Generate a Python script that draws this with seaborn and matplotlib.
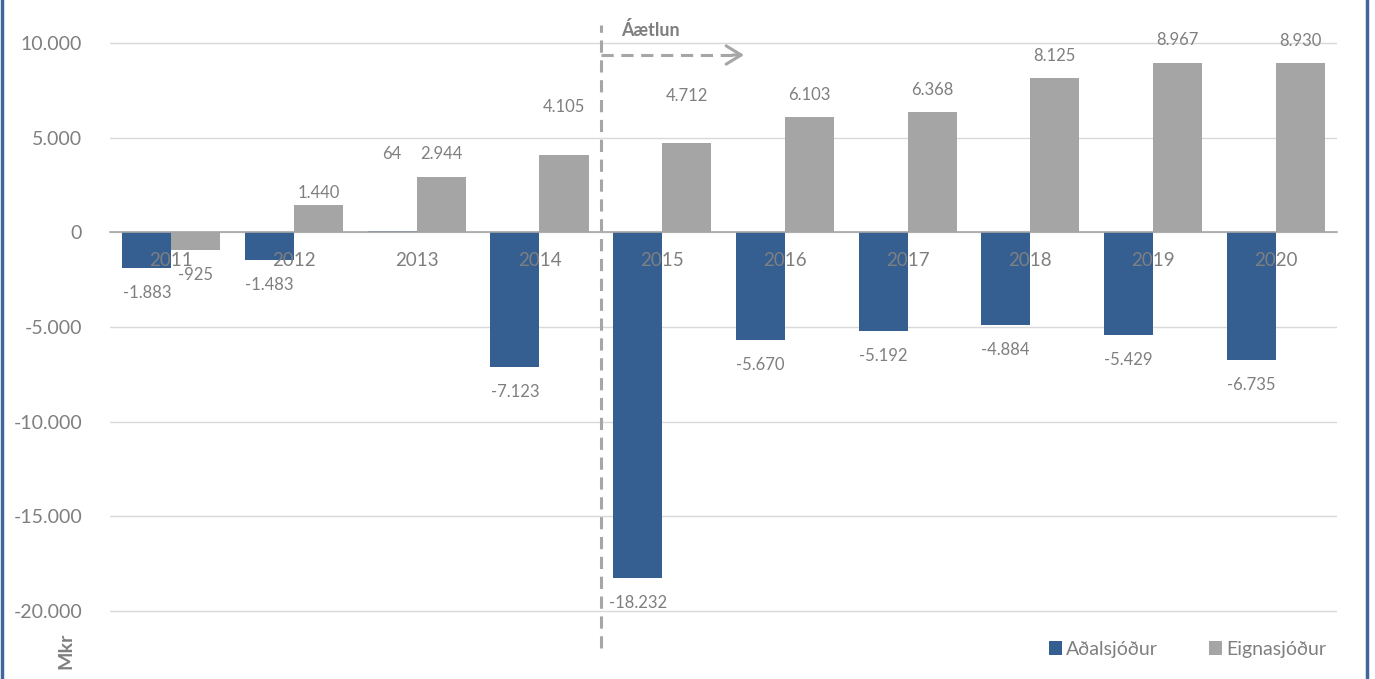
import pandas as pd
import matplotlib.pyplot as plt
import seaborn as sns
from matplotlib.lines import Line2D
from matplotlib.ticker import FuncFormatter

# Data
years = ['2011', '2012', '2013', '2014', '2015', '2016', '2017', '2018', '2019', '2020']
adalsjodur = [-1883, -1483, 64, -7123, -18232, -5670, -5192, -4884, -5429, -6735]
eignasjodur = [-925, 1440, 2944, 4105, 4712, 6103, 6368, 8125, 8967, 8930]
funds = ['Aðalsjóður', 'Eignasjóður']
y_ticks = [-20000, -15000, -10000, -5000, 0, 5000, 10000]

df = pd.DataFrame({'year': years * 2,
                   'value': adalsjodur + eignasjodur,
                   'fund': [funds[0]] * len(years) + [funds[1]] * len(years)})

sns.set_theme(style="white")
plt.rcParams['font.family'] = ['Lato', 'DejaVu Sans']

blue = '#365F91'
gray = '#A5A5A5'
txt = '#7F7F7F'

fig = plt.figure(figsize=(13.75, 6.79), dpi=100)
ax = fig.add_axes([0.08, 0.0, 0.8924, 1.0])

sns.barplot(data=df, x='year', y='value', hue='fund', palette=[blue, gray],
            width=0.8, saturation=1, ax=ax, edgecolor='none', linewidth=0)

ax.set_ylim(-23592, 12271)
ax.set_xlim(-0.5, 9.5)
ax.set_yticks(y_ticks)
ax.yaxis.set_major_formatter(FuncFormatter(lambda v, p: f'{int(v):,}'.replace(',', '.')))
ax.grid(axis='y', color='#D9D9D9', linewidth=1)
ax.set_axisbelow(True)
ax.xaxis.set_zorder(3)  # year labels drawn over the bars
for s in ['left', 'right', 'top']:
    ax.spines[s].set_visible(False)
ax.spines['bottom'].set_position(('data', 0))
ax.spines['bottom'].set_color('#A6A6A6')
ax.spines['bottom'].set_linewidth(1.2)
ax.tick_params(axis='y', colors=txt, labelsize=14, length=0, pad=20)
ax.tick_params(axis='x', colors=txt, labelsize=13.5, length=0, pad=14)
ax.set_xlabel('')
ax.set_ylabel('')

# data labels
offsets = {(1, 3): 25, (1, 4): 25, (1, 1): -10}
for i, cont in enumerate(ax.containers):
    vals = [adalsjodur, eignasjodur][i]
    for j, bar in enumerate(cont):
        val = vals[j]
        xc = bar.get_x() + bar.get_width() / 2
        if (i, j) == (0, 2):
            # small value label sits level with its neighbour
            ax.annotate(f'{val:,}'.replace(',', '.'), (xc, eignasjodur[2]), xytext=(0, 16),
                        textcoords='offset points', ha='center', va='center', color=txt, fontsize=12)
            continue
        dy = 16 + offsets.get((i, j), 0) * 0.72 if val >= 0 else -18
        ax.annotate(f'{val:,}'.replace(',', '.'), (xc, val), xytext=(0, dy),
                    textcoords='offset points', ha='center', va='center', color=txt, fontsize=12)

# forecast marker
ax.plot([3.5, 3.5], [-21960, 10950], linestyle=(0, (4, 2.5)), color='#A6A6A6', lw=2.2)
ax.plot([3.5, 4.62], [9366, 9366], linestyle=(0, (4, 2.5)), color='#A6A6A6', lw=2.2)
ax.annotate('', xy=(4.69, 9366), xytext=(4.55, 9366),
            arrowprops=dict(arrowstyle='->,head_length=0.9,head_width=0.55', lw=2.2, color='#A6A6A6'))
ax.text(3.667, 10686, 'Áætlun', fontsize=13, fontweight='bold', color=txt, va='center', ha='left')

ax.legend(loc='center right', bbox_to_anchor=(1334 / 1375, 1 - 649 / 679),
          bbox_transform=fig.transFigure, ncol=2, frameon=False, fontsize=14,
          handlelength=0.7, handleheight=0.7, handletextpad=0.2, columnspacing=2.6,
          labelcolor=txt, borderaxespad=0)

fig.text(66 / 1375, 1 - 651 / 679, 'Mkr', rotation=90, fontsize=14, fontweight='bold',
         color=txt, ha='center', va='center')

# outer border
fig.add_artist(Line2D([0.0015, 0.0015], [0, 1], transform=fig.transFigure, color='#41679A', lw=2.5))
fig.add_artist(Line2D([1366.5 / 1375, 1366.5 / 1375], [0, 1], transform=fig.transFigure, color='#41679A', lw=2.5))

fig.savefig('out.png', dpi=100)
